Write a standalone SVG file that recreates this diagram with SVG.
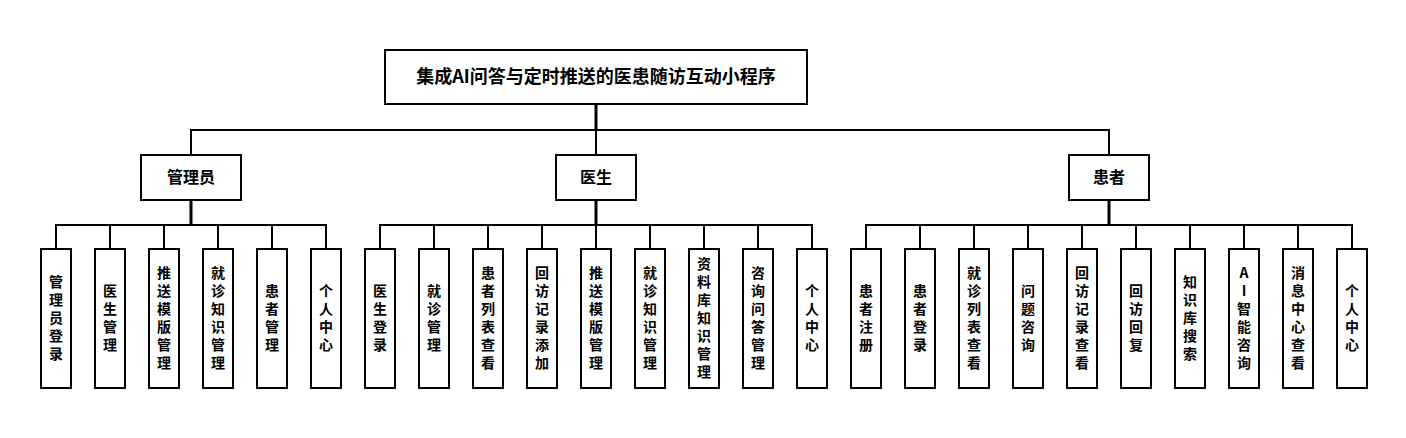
<svg xmlns="http://www.w3.org/2000/svg" width="1406" height="438" viewBox="0 0 1406 438">
<style>
rect{fill:#fff;stroke:#000;stroke-width:2}
text{font-family:"Noto Sans CJK SC","Noto Sans",sans-serif;font-weight:bold;fill:#000;text-anchor:middle}
.t{font-size:18px}.m{font-size:16px}.l{font-size:14px}
.c path{fill:none;stroke:#000;stroke-width:2}
.c .k{stroke-width:3}
</style>
<rect width="1406" height="438" style="fill:#fff;stroke:none"/>
<g class="c" id="connectors">
<path class="k" d="M596 104V130"/>
<path d="M191 155V130H1109V155M596 130V155"/>
<path class="k" d="M191 200V225M596 200V225M1109 200V225"/>
<path d="M56 249V225H326V249M110 225V249M164 225V249M218 225V249M272 225V249"/>
<path d="M380 249V225H812V249M434 225V249M488 225V249M542 225V249M596 225V249M650 225V249M704 225V249M758 225V249"/>
<path d="M866 249V225H1352V249M920 225V249M974 225V249M1028 225V249M1082 225V249M1136 225V249M1190 225V249M1244 225V249M1298 225V249"/>
</g>
<g id="root"><rect x="385" y="50" width="422" height="54"/><text class="t" x="596" y="83">集成AI问答与定时推送的医患随访互动小程序</text></g>
<g id="admin"><rect x="141" y="155" width="100" height="45"/><text class="m" x="191" y="183">管理员</text></g>
<g id="doctor"><rect x="556" y="155" width="80" height="45"/><text class="m" x="596" y="183">医生</text></g>
<g id="patient"><rect x="1069" y="155" width="80" height="45"/><text class="m" x="1109" y="183">患者</text></g>
<g id="leaves">
<g id="a1"><rect x="41" y="249" width="30" height="139"/><text class="l"><tspan x="56" y="287">管</tspan><tspan x="56" y="305">理</tspan><tspan x="56" y="323">员</tspan><tspan x="56" y="341">登</tspan><tspan x="56" y="359">录</tspan></text></g>
<g id="a2"><rect x="95" y="249" width="30" height="139"/><text class="l"><tspan x="110" y="296">医</tspan><tspan x="110" y="314">生</tspan><tspan x="110" y="332">管</tspan><tspan x="110" y="350">理</tspan></text></g>
<g id="a3"><rect x="149" y="249" width="30" height="139"/><text class="l"><tspan x="164" y="278">推</tspan><tspan x="164" y="296">送</tspan><tspan x="164" y="314">模</tspan><tspan x="164" y="332">版</tspan><tspan x="164" y="350">管</tspan><tspan x="164" y="368">理</tspan></text></g>
<g id="a4"><rect x="203" y="249" width="30" height="139"/><text class="l"><tspan x="218" y="278">就</tspan><tspan x="218" y="296">诊</tspan><tspan x="218" y="314">知</tspan><tspan x="218" y="332">识</tspan><tspan x="218" y="350">管</tspan><tspan x="218" y="368">理</tspan></text></g>
<g id="a5"><rect x="257" y="249" width="30" height="139"/><text class="l"><tspan x="272" y="296">患</tspan><tspan x="272" y="314">者</tspan><tspan x="272" y="332">管</tspan><tspan x="272" y="350">理</tspan></text></g>
<g id="a6"><rect x="311" y="249" width="30" height="139"/><text class="l"><tspan x="326" y="296">个</tspan><tspan x="326" y="314">人</tspan><tspan x="326" y="332">中</tspan><tspan x="326" y="350">心</tspan></text></g>
<g id="d1"><rect x="365" y="249" width="30" height="139"/><text class="l"><tspan x="380" y="296">医</tspan><tspan x="380" y="314">生</tspan><tspan x="380" y="332">登</tspan><tspan x="380" y="350">录</tspan></text></g>
<g id="d2"><rect x="419" y="249" width="30" height="139"/><text class="l"><tspan x="434" y="296">就</tspan><tspan x="434" y="314">诊</tspan><tspan x="434" y="332">管</tspan><tspan x="434" y="350">理</tspan></text></g>
<g id="d3"><rect x="473" y="249" width="30" height="139"/><text class="l"><tspan x="488" y="278">患</tspan><tspan x="488" y="296">者</tspan><tspan x="488" y="314">列</tspan><tspan x="488" y="332">表</tspan><tspan x="488" y="350">查</tspan><tspan x="488" y="368">看</tspan></text></g>
<g id="d4"><rect x="527" y="249" width="30" height="139"/><text class="l"><tspan x="542" y="278">回</tspan><tspan x="542" y="296">访</tspan><tspan x="542" y="314">记</tspan><tspan x="542" y="332">录</tspan><tspan x="542" y="350">添</tspan><tspan x="542" y="368">加</tspan></text></g>
<g id="d5"><rect x="581" y="249" width="30" height="139"/><text class="l"><tspan x="596" y="278">推</tspan><tspan x="596" y="296">送</tspan><tspan x="596" y="314">模</tspan><tspan x="596" y="332">版</tspan><tspan x="596" y="350">管</tspan><tspan x="596" y="368">理</tspan></text></g>
<g id="d6"><rect x="635" y="249" width="30" height="139"/><text class="l"><tspan x="650" y="278">就</tspan><tspan x="650" y="296">诊</tspan><tspan x="650" y="314">知</tspan><tspan x="650" y="332">识</tspan><tspan x="650" y="350">管</tspan><tspan x="650" y="368">理</tspan></text></g>
<g id="d7"><rect x="689" y="249" width="30" height="139"/><text class="l"><tspan x="704" y="269">资</tspan><tspan x="704" y="287">料</tspan><tspan x="704" y="305">库</tspan><tspan x="704" y="323">知</tspan><tspan x="704" y="341">识</tspan><tspan x="704" y="359">管</tspan><tspan x="704" y="377">理</tspan></text></g>
<g id="d8"><rect x="743" y="249" width="30" height="139"/><text class="l"><tspan x="758" y="278">咨</tspan><tspan x="758" y="296">询</tspan><tspan x="758" y="314">问</tspan><tspan x="758" y="332">答</tspan><tspan x="758" y="350">管</tspan><tspan x="758" y="368">理</tspan></text></g>
<g id="d9"><rect x="797" y="249" width="30" height="139"/><text class="l"><tspan x="812" y="296">个</tspan><tspan x="812" y="314">人</tspan><tspan x="812" y="332">中</tspan><tspan x="812" y="350">心</tspan></text></g>
<g id="p1"><rect x="851" y="249" width="30" height="139"/><text class="l"><tspan x="866" y="296">患</tspan><tspan x="866" y="314">者</tspan><tspan x="866" y="332">注</tspan><tspan x="866" y="350">册</tspan></text></g>
<g id="p2"><rect x="905" y="249" width="30" height="139"/><text class="l"><tspan x="920" y="296">患</tspan><tspan x="920" y="314">者</tspan><tspan x="920" y="332">登</tspan><tspan x="920" y="350">录</tspan></text></g>
<g id="p3"><rect x="959" y="249" width="30" height="139"/><text class="l"><tspan x="974" y="278">就</tspan><tspan x="974" y="296">诊</tspan><tspan x="974" y="314">列</tspan><tspan x="974" y="332">表</tspan><tspan x="974" y="350">查</tspan><tspan x="974" y="368">看</tspan></text></g>
<g id="p4"><rect x="1013" y="249" width="30" height="139"/><text class="l"><tspan x="1028" y="296">问</tspan><tspan x="1028" y="314">题</tspan><tspan x="1028" y="332">咨</tspan><tspan x="1028" y="350">询</tspan></text></g>
<g id="p5"><rect x="1067" y="249" width="30" height="139"/><text class="l"><tspan x="1082" y="278">回</tspan><tspan x="1082" y="296">访</tspan><tspan x="1082" y="314">记</tspan><tspan x="1082" y="332">录</tspan><tspan x="1082" y="350">查</tspan><tspan x="1082" y="368">看</tspan></text></g>
<g id="p6"><rect x="1121" y="249" width="30" height="139"/><text class="l"><tspan x="1136" y="296">回</tspan><tspan x="1136" y="314">访</tspan><tspan x="1136" y="332">回</tspan><tspan x="1136" y="350">复</tspan></text></g>
<g id="p7"><rect x="1175" y="249" width="30" height="139"/><text class="l"><tspan x="1190" y="287">知</tspan><tspan x="1190" y="305">识</tspan><tspan x="1190" y="323">库</tspan><tspan x="1190" y="341">搜</tspan><tspan x="1190" y="359">索</tspan></text></g>
<g id="p8"><rect x="1229" y="249" width="30" height="139"/><text class="l"><tspan x="1244" y="278">A</tspan><tspan x="1244" y="296">I</tspan><tspan x="1244" y="314">智</tspan><tspan x="1244" y="332">能</tspan><tspan x="1244" y="350">咨</tspan><tspan x="1244" y="368">询</tspan></text></g>
<g id="p9"><rect x="1283" y="249" width="30" height="139"/><text class="l"><tspan x="1298" y="278">消</tspan><tspan x="1298" y="296">息</tspan><tspan x="1298" y="314">中</tspan><tspan x="1298" y="332">心</tspan><tspan x="1298" y="350">查</tspan><tspan x="1298" y="368">看</tspan></text></g>
<g id="p10"><rect x="1337" y="249" width="30" height="139"/><text class="l"><tspan x="1352" y="296">个</tspan><tspan x="1352" y="314">人</tspan><tspan x="1352" y="332">中</tspan><tspan x="1352" y="350">心</tspan></text></g>
</g>
</svg>
